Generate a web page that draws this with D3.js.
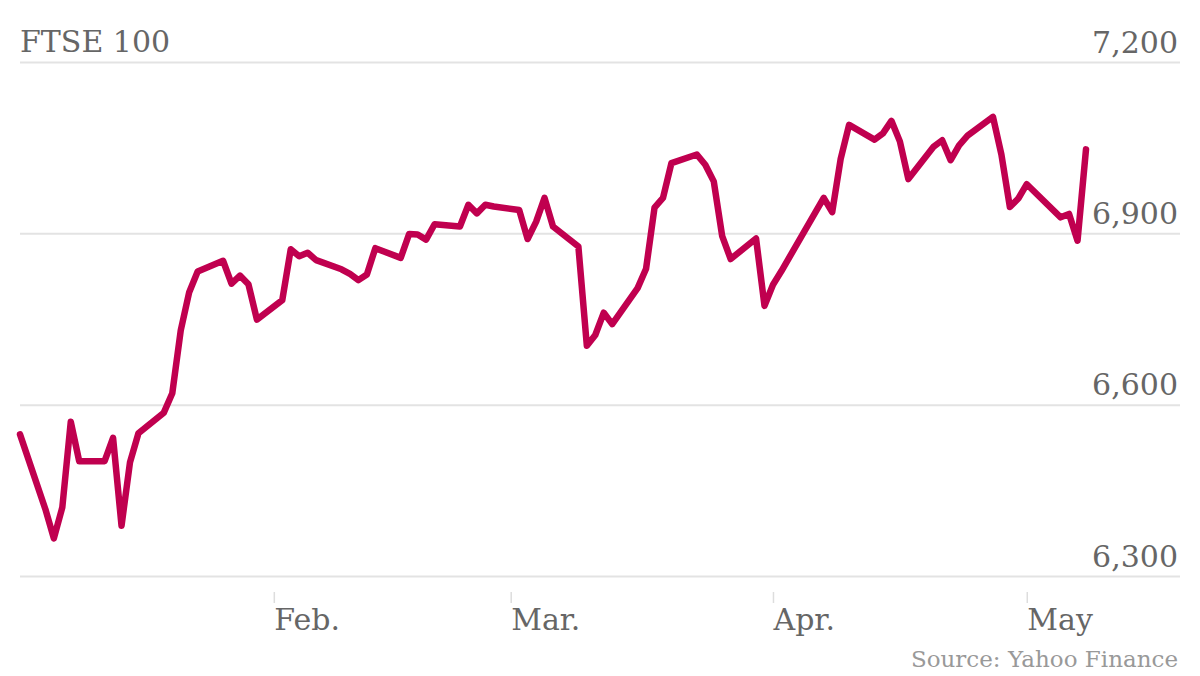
<!DOCTYPE html>
<html>
<head>
<meta charset="utf-8">
<script src="https://cdnjs.cloudflare.com/ajax/libs/d3/7.8.5/d3.min.js"></script>
<style>
  body { margin: 0; background: #fff; }
  text { font-family: "DejaVu Serif", serif; fill: #666; }
</style>
</head>
<body>
<script>
// FTSE 100 daily close, Jan 2 - May 8 2015
var dates = [
  "2015-01-02", "2015-01-05", "2015-01-06", "2015-01-07", "2015-01-08", "2015-01-09",
  "2015-01-12", "2015-01-13", "2015-01-14", "2015-01-15", "2015-01-16",
  "2015-01-19", "2015-01-20", "2015-01-21", "2015-01-22", "2015-01-23",
  "2015-01-26", "2015-01-27", "2015-01-28", "2015-01-29", "2015-01-30",
  "2015-02-02", "2015-02-03", "2015-02-04", "2015-02-05", "2015-02-06",
  "2015-02-09", "2015-02-10", "2015-02-11", "2015-02-12", "2015-02-13",
  "2015-02-16", "2015-02-17", "2015-02-18", "2015-02-19", "2015-02-20",
  "2015-02-23", "2015-02-24", "2015-02-25", "2015-02-26", "2015-02-27",
  "2015-03-02", "2015-03-03", "2015-03-04", "2015-03-05", "2015-03-06",
  "2015-03-09", "2015-03-10", "2015-03-11", "2015-03-12", "2015-03-13",
  "2015-03-16", "2015-03-17", "2015-03-18", "2015-03-19", "2015-03-20",
  "2015-03-23", "2015-03-24", "2015-03-25", "2015-03-26", "2015-03-27",
  "2015-03-30", "2015-03-31", "2015-04-01", "2015-04-02",
  "2015-04-07", "2015-04-08", "2015-04-09", "2015-04-10",
  "2015-04-13", "2015-04-14", "2015-04-15", "2015-04-16", "2015-04-17",
  "2015-04-20", "2015-04-21", "2015-04-22", "2015-04-23", "2015-04-24",
  "2015-04-27", "2015-04-28", "2015-04-29", "2015-04-30", "2015-05-01",
  "2015-05-05", "2015-05-06", "2015-05-07", "2015-05-08"
];
var closes = [
  6548, 6417, 6366, 6420, 6570, 6501,
  6501, 6542, 6388, 6499, 6550,
  6586, 6620, 6730, 6797, 6833,
  6852, 6812, 6826, 6811, 6749,
  6783, 6872, 6860, 6866, 6853,
  6837, 6829, 6818, 6828, 6874,
  6857, 6899, 6898, 6889, 6916,
  6912, 6950, 6935, 6950, 6947,
  6941, 6890, 6920, 6962, 6912,
  6877, 6703, 6722, 6761, 6741,
  6804, 6838, 6945, 6962, 7023,
  7038, 7020, 6991, 6895, 6855,
  6891, 6773, 6810, 6834,
  6962, 6937, 7030, 7090,
  7064, 7075, 7097, 7061, 6995,
  7052, 7063, 7028, 7054, 7071,
  7104, 7038, 6946, 6961, 6986,
  6928, 6934, 6887, 7047
];
var yTicks = [6300, 6600, 6900, 7200];
var monthTicks = ["2015-02-01", "2015-03-01", "2015-04-01", "2015-05-01"];
var monthLabels = ["Feb.", "Mar.", "Apr.", "May"];

var outerWidth = 1200,
    outerHeight = 676,
    plotLeft = 20,
    plotRight = 1086,
    gridRight = 1180,
    plotTop = 62,
    plotBottom = 576;

var parseDate = d3.timeParse("%Y-%m-%d");
var data = dates.map(function (d, i) { return { date: parseDate(d), value: closes[i] }; });

var svg = d3.select("body").append("svg").attr("width", outerWidth).attr("height", outerHeight);

var x = d3.scaleTime().domain(d3.extent(data, function (d) { return d.date; })).range([plotLeft, plotRight]);
var y = d3.scaleLinear().domain([6300, 7200]).range([plotBottom, plotTop]);

// horizontal grid + right-hand labels
var yAxis = d3.axisRight(y).tickValues(yTicks).tickSize(gridRight - plotLeft).tickFormat(d3.format(","));
var yAxisGroup = svg.append("g").classed("y axis", true).attr("transform", "translate(" + plotLeft + ",0)").call(yAxis);
yAxisGroup.select(".domain").remove();
yAxisGroup.selectAll("line").attr("stroke", "#e3e3e3").attr("stroke-width", 2);
yAxisGroup.selectAll("text")
  .attr("x", gridRight - plotLeft - 2).attr("dy", -10)
  .attr("text-anchor", "end")
  .style("font-size", "30px").attr("fill", "#666");

// month ticks below the plot
var monthDates = monthTicks.map(parseDate);
var xAxis = d3.axisBottom(x).tickValues(monthDates).tickSize(11).tickFormat(function (d, i) { return monthLabels[i]; });
var xAxisGroup = svg.append("g").classed("x axis", true).attr("transform", "translate(0,592)").call(xAxis);
xAxisGroup.select(".domain").remove();
xAxisGroup.selectAll("line").attr("stroke", "#dddddd").attr("stroke-width", 1.5);
xAxisGroup.selectAll("text")
  .attr("x", 0).attr("y", 38).attr("dy", 0)
  .attr("text-anchor", "start")
  .style("font-size", "30px").attr("fill", "#666");

var line = d3.line().x(function (d) { return x(d.date); }).y(function (d) { return y(d.value); });

svg.append("path").datum(data)
  .attr("d", line)
  .attr("fill", "none")
  .attr("stroke", "#c0004f")
  .attr("stroke-width", 6.5)
  .attr("stroke-linejoin", "round")
  .attr("stroke-linecap", "round");

svg.append("text").attr("x", 20).attr("y", 52).style("font-size", "30px").text("FTSE 100");

svg.append("text").attr("x", 1178).attr("y", 667).attr("text-anchor", "end")
  .style("font-size", "23px").style("fill", "#999").text("Source: Yahoo Finance");
</script>
</body>
</html>
